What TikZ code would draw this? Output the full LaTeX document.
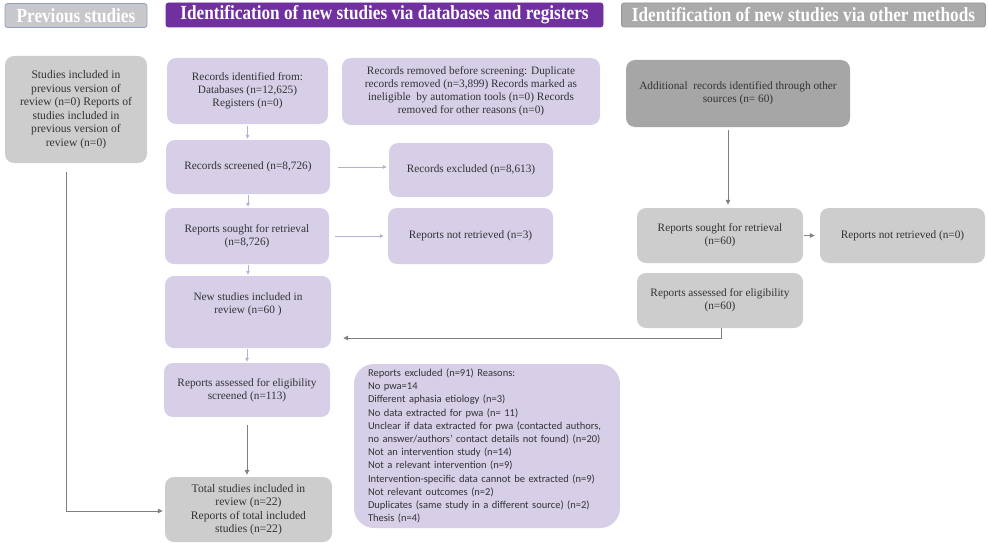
\documentclass[tikz,border=0pt]{standalone}
\usepackage{fontspec}
\setmainfont{Liberation Serif}
\newfontfamily\hdrfont[FakeStretch=0.86]{Liberation Serif Bold}
\newfontfamily\calib{Carlito}
\usetikzlibrary{arrows.meta}
\definecolor{lav}{HTML}{D7CEE8}
\definecolor{lgray}{HTML}{CDCDCD}
\definecolor{dgray}{HTML}{A6A6A6}
\definecolor{hpurple}{HTML}{7030A0}
\definecolor{hprevfill}{HTML}{C8C8CC}
\definecolor{hprevline}{HTML}{8FA2BE}
\definecolor{hothfill}{HTML}{AAAAAA}
\definecolor{hothline}{HTML}{969696}
\definecolor{parrowc}{HTML}{B9ADD8}
\definecolor{garrowc}{HTML}{808080}
\definecolor{txt}{HTML}{333333}
\tikzset{
  box/.style={rounded corners=9pt, align=center, inner sep=0pt, text=txt,
    font=\fontsize{11.3}{13}\selectfont},
  pbox/.style={box, fill=lav},
  gbox/.style={box, fill=lgray},
  hdr/.style={line width=0.8pt, rounded corners=2.5pt, text=white, inner sep=0pt,
    font=\hdrfont\fontsize{20}{22}\selectfont},
  parrow/.style={draw=parrowc, line width=0.8pt, -{Triangle[length=4pt,width=3.5pt]}},
  garrow/.style={draw=garrowc, line width=1pt, -{Triangle[length=5pt,width=4.5pt]}},
}
\begin{document}
\begin{tikzpicture}[x=1pt,y=-1pt]
\useasboundingbox (0,0) rectangle (988,543);
% headers
\node[hdr, draw=hprevline, fill=hprevfill, minimum width=142pt, minimum height=24pt] (hprev) at (76,15.5) {Previous studies};
\node[hdr, draw=hpurple, fill=hpurple, minimum width=437pt, minimum height=24pt] (hdb) at (384.5,15) {Identification of new studies via databases and registers};
\node[hdr, draw=hothline, fill=hothfill, minimum width=364pt, minimum height=24pt] (hoth) at (803.5,15) {Identification of new studies via other methods};
% previous studies
\node[gbox, minimum width=142pt, minimum height=107pt, font=\fontsize{11.6}{13.5}\selectfont] (prev) at (76,109.5) {Studies included in\\previous version of\\review (n=0) Reports of\\studies included in\\previous version of\\review (n=0)};
% databases column
\node[pbox, minimum width=161pt, minimum height=66pt] (ident) at (247.5,91) {Records identified from:\\Databases (n=12,625)\\Registers (n=0)};
\node[pbox, minimum width=258pt, minimum height=67pt] (removed) at (471,91.5) {Records removed before screening: Duplicate\\records removed (n=3,899) Records marked as\\ineligible\ \ by automation tools (n=0) Records\\removed for other reasons (n=0)};
\node[pbox, minimum width=164pt, minimum height=54pt] (screened) at (248,167) {Records screened (n=8,726)};
\node[pbox, minimum width=164pt, minimum height=54pt] (excl) at (471,170) {Records excluded (n=8,613)};
\node[pbox, minimum width=164pt, minimum height=56pt] (sought) at (247,236) {Reports sought for retrieval\\(n=8,726)};
\node[pbox, minimum width=165pt, minimum height=56pt] (notret) at (470.5,236) {Reports not retrieved (n=3)};
\node[pbox, minimum width=166pt, minimum height=72pt] (newst) at (248,312) {New studies included in\\review (n=60 )\\[4pt]};
\node[pbox, minimum width=166pt, minimum height=54pt] (assess) at (247,390) {Reports assessed for eligibility\\screened (n=113)};
\node[pbox, minimum width=266pt, minimum height=164pt, rounded corners=20pt, align=left, text width=238pt, inner xsep=14pt,
  font=\calib\fontsize{10.5}{13.2}\selectfont] (excl91) at (487,446) {Reports excluded (n=91) Reasons:\\No pwa=14\\Different aphasia etiology (n=3)\\No data extracted for pwa (n= 11)\\Unclear if data extracted for pwa (contacted authors,\\no answer/authors’ contact details not found) (n=20)\\Not an intervention study (n=14)\\Not a relevant intervention (n=9)\\Intervention-specific data cannot be extracted (n=9)\\Not relevant outcomes (n=2)\\Duplicates (same study in a different source) (n=2)\\Thesis (n=4)};
\node[gbox, minimum width=167pt, minimum height=65pt, font=\fontsize{11.6}{13.5}\selectfont] (total) at (248.5,509.5) {Total studies included in\\review (n=22)\\Reports of total included\\studies (n=22)};
% other methods column
\node[box, fill=dgray, minimum width=224pt, minimum height=67pt] (addl) at (738,93.5) {Additional\ \ records identified through other\\sources (n= 60)};
\node[gbox, minimum width=166pt, minimum height=55pt] (sought2) at (720,235.5) {Reports sought for retrieval\\(n=60)};
\node[gbox, minimum width=165pt, minimum height=55pt] (notret2) at (902.5,235.5) {Reports not retrieved (n=0)};
\node[gbox, minimum width=166pt, minimum height=55pt] (assess2) at (720,300.5) {Reports assessed for eligibility\\(n=60)};
% connector helper coordinates
\coordinate (pl) at (66,172);
\coordinate (ax) at (728,0);
\coordinate (bx) at (721,0);
\coordinate (yl) at (0,511);
\coordinate (yc) at (0,338);
\coordinate (ys) at (0,167);
% purple arrows
\draw[parrow, shorten <=2pt, shorten >=1pt] (ident.south) -- (screened.north -| ident.south);
\draw[parrow, shorten <=8pt, shorten >=2pt] (screened.east |- ys) -- (excl.west |- ys);
\draw[parrow, shorten <=1pt, shorten >=1pt] (screened.south) -- (sought.north -| screened.south);
\draw[parrow, shorten <=6pt, shorten >=4pt] (sought.east) -- (notret.west |- sought.east);
\draw[parrow, shorten <=1pt, shorten >=1pt] (sought.south -| screened.south) -- (newst.north -| screened.south);
\draw[parrow, shorten <=1pt, shorten >=1pt] (newst.south -| assess.north) -- (assess.north);
% gray arrows
\draw[garrow, shorten <=8pt, shorten >=2pt] (assess.south) -- (total.north -| assess.south);
\draw[garrow, shorten >=2pt] (pl) |- (total.west |- yl);
\draw[garrow, shorten <=3pt, shorten >=3pt] (addl.south -| ax) -- (sought2.north -| ax);
\draw[garrow, shorten <=1pt, shorten >=5pt] (sought2.east) -- (notret2.west);
\draw[garrow, shorten >=12pt] (assess2.south -| bx) |- (newst.east |- yc);
\end{tikzpicture}
\end{document}
